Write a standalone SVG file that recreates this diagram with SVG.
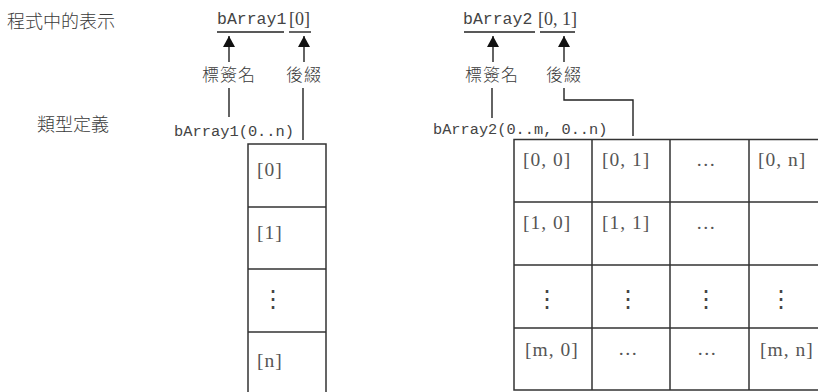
<svg xmlns="http://www.w3.org/2000/svg" width="818" height="392" viewBox="0 0 818 392">
<style>
.cjk{font-family:"Noto Sans CJK TC","Noto Sans CJK JP",sans-serif;fill:#3a3a3a;font-weight:300}
.mono{font-family:"Liberation Mono",monospace;fill:#444}
.idx{font-family:"Liberation Serif",serif;fill:#444}
.cell{font-family:"Liberation Serif",serif;font-size:19.5px;fill:#555;letter-spacing:1px}
.dots{font-family:"DejaVu Sans",sans-serif;font-size:24px;fill:#444;text-anchor:middle}
.ln{stroke:#222;stroke-width:1.4;fill:none}
.grid{stroke:#333;stroke-width:1.5;fill:none}
</style>
<defs>
<marker id="ah" viewBox="0 0 11 12" refX="11" refY="6" markerWidth="11" markerHeight="12" orient="auto" markerUnits="userSpaceOnUse">
<path d="M0,0 L11,6 L0,12 z" fill="#111"/>
</marker>
</defs>

<g id="heading-program">
<text class="cjk" x="7" y="28" font-size="18">程式中的表示</text>
</g>
<g id="heading-type">
<text class="cjk" x="37" y="131" font-size="18">類型定義</text>
</g>

<g id="expr1">
<text class="mono" x="217" y="24" font-size="16.5">bArray1</text>
<text class="idx" x="289" y="25" font-size="18">[0]</text>
<line class="ln" x1="217" y1="32" x2="284" y2="32"/>
<line class="ln" x1="289" y1="32" x2="311" y2="32"/>
</g>
<g id="expr2">
<text class="mono" x="463" y="24" font-size="16.5">bArray2</text>
<text class="idx" x="538" y="25" font-size="18">[0, 1]</text>
<line class="ln" x1="464" y1="32" x2="535" y2="32"/>
<line class="ln" x1="540" y1="32" x2="575" y2="32"/>
</g>

<g id="label-name1"><text class="cjk" x="229" y="81" font-size="17" text-anchor="middle" letter-spacing="1">標簽名</text></g>
<g id="label-suffix1"><text class="cjk" x="304" y="81" font-size="17" text-anchor="middle" letter-spacing="1">後綴</text></g>
<g id="label-name2"><text class="cjk" x="492" y="81" font-size="17" text-anchor="middle" letter-spacing="1">標簽名</text></g>
<g id="label-suffix2"><text class="cjk" x="564" y="81" font-size="17" text-anchor="middle" letter-spacing="1">後綴</text></g>

<g id="typedef1"><text class="mono" x="174" y="136" font-size="15.4">bArray1(0..n)</text></g>
<g id="typedef2"><text class="mono" x="433" y="134" font-size="15.3">bArray2(0..m, 0..n)</text></g>

<g id="array1">
<path class="grid" d="M248,392 V144 H326 V392 M248,207 H326 M248,269 H326 M248,332 H326"/>
<text class="cell" x="257" y="176">[0]</text>
<text class="cell" x="257" y="239">[1]</text>
<text class="dots" x="273" y="307">⋮</text>
<text class="cell" x="257" y="367">[n]</text>
</g>

<g id="array2">
<path class="grid" d="M820,139.5 H514 V390 H820 M514,202 H820 M514,265 H820 M514,328 H820 M592,139.5 V390 M670,139.5 V390 M749,139.5 V390"/>
<text class="cell" x="523" y="166">[0, 0]</text>
<text class="cell" x="602" y="166">[0, 1]</text>
<text class="cell" x="696" y="166">…</text>
<text class="cell" x="758" y="166">[0, n]</text>
<text class="cell" x="523" y="229">[1, 0]</text>
<text class="cell" x="602" y="229">[1, 1]</text>
<text class="cell" x="696" y="229">…</text>
<text class="dots" x="547" y="307">⋮</text>
<text class="dots" x="628" y="307">⋮</text>
<text class="dots" x="706" y="307">⋮</text>
<text class="dots" x="781" y="307">⋮</text>
<text class="cell" x="525" y="356">[m, 0]</text>
<text class="cell" x="618" y="355">…</text>
<text class="cell" x="697" y="355">…</text>
<text class="cell" x="760" y="356">[m, n]</text>
</g>

<g id="connectors">
<line class="ln" x1="229" y1="62" x2="229" y2="36" marker-end="url(#ah)"/>
<line class="ln" x1="304" y1="62" x2="304" y2="36" marker-end="url(#ah)"/>
<line class="ln" x1="493" y1="62" x2="493" y2="36" marker-end="url(#ah)"/>
<line class="ln" x1="564" y1="62" x2="564" y2="36" marker-end="url(#ah)"/>
<line class="ln" x1="229" y1="88" x2="229" y2="117"/>
<line class="ln" x1="303" y1="88" x2="303" y2="140"/>
<line class="ln" x1="492" y1="88" x2="492" y2="118"/>
<polyline class="ln" points="564,88 564,100 633,100 633,136"/>
</g>
</svg>
